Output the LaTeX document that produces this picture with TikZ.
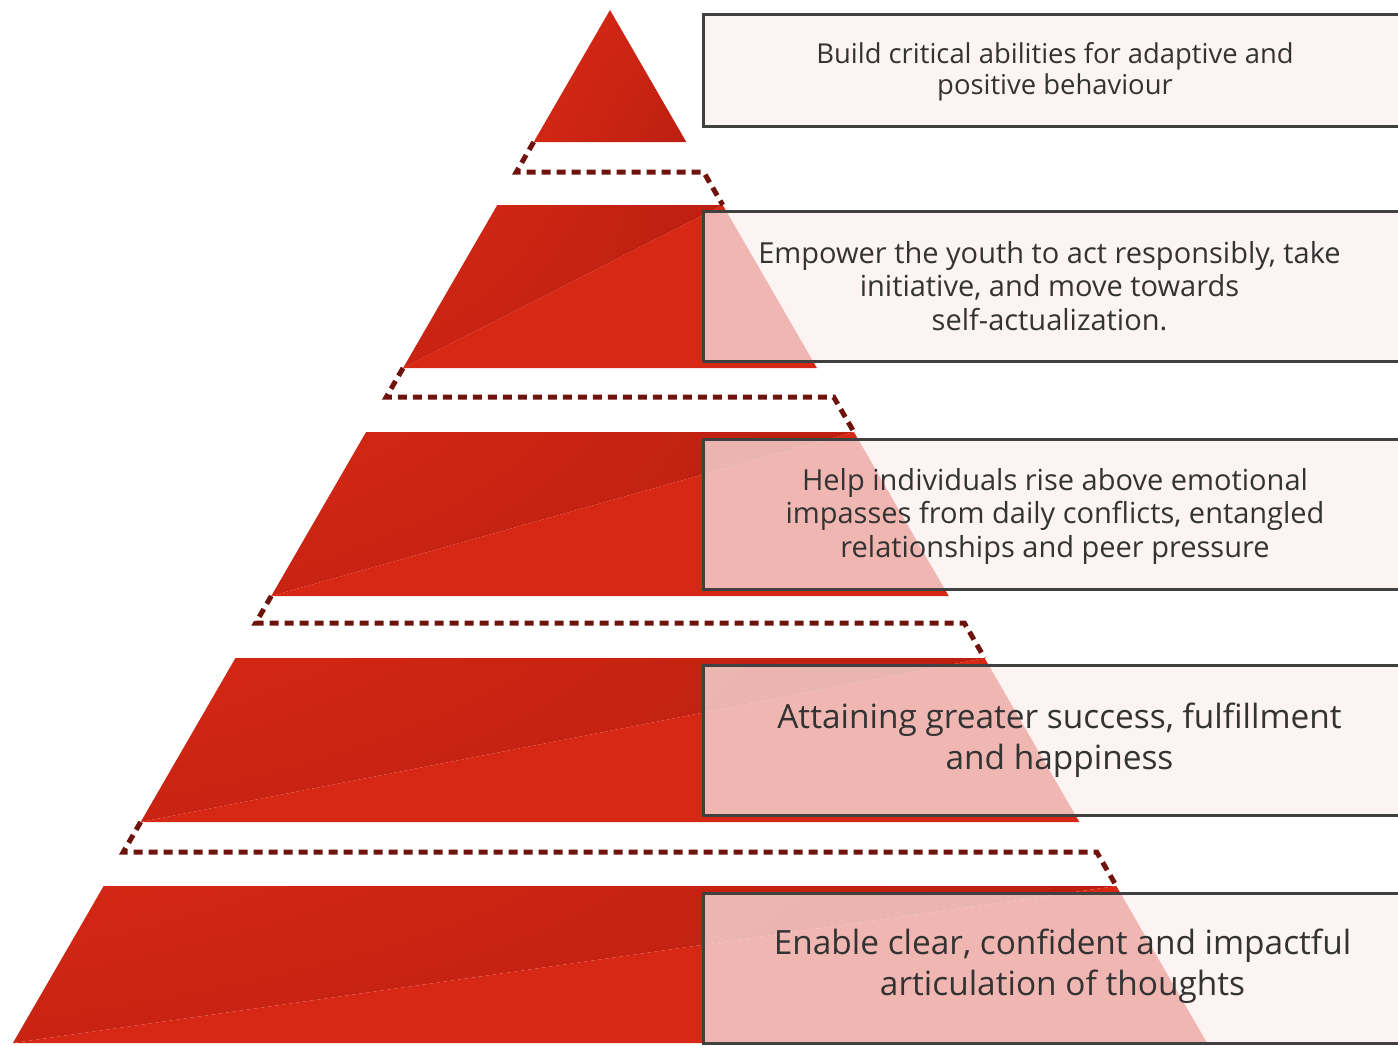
\documentclass[tikz,border=0pt]{standalone}
\usepackage{fontspec}
\setmainfont{Open Sans}
\usetikzlibrary{shadings}
\definecolor{pyrbright}{RGB}{214,40,21}
\definecolor{pyrdark}{RGB}{188,31,17}
\definecolor{dotred}{RGB}{110,20,12}
\definecolor{boxfill}{RGB}{251,238,238}
\definecolor{boxline}{RGB}{64,64,64}
\definecolor{txt}{RGB}{51,51,51}
\tikzset{
  infobox/.style={draw=boxline, line width=3pt, fill=boxfill, fill opacity=0.72},
  dotline/.style={draw=dotred, line width=5pt, dash pattern=on 9pt off 6pt},
  boxtext/.style={text=txt, align=center, inner sep=0pt},
  upperpart/.style={upper left=pyrbright, upper right=pyrdark, lower left=pyrdark!55!pyrbright, lower right=pyrdark},
}
% corners of a band: #1 name, #2 top y, #3 bottom y
\newcommand\bandcorners[3]{%
  \coordinate (#1tl) at ({610-0.578*(#2-10)},#2);
  \coordinate (#1tr) at ({610+0.578*(#2-10)},#2);
  \coordinate (#1bl) at ({610-0.578*(#3-10)},#3);
  \coordinate (#1br) at ({610+0.578*(#3-10)},#3);
}
\newcommand\drawband[1]{%
  \shade[upperpart] (#1tl) -- (#1tr) -- (#1bl) -- cycle;
  \fill[pyrbright] (#1bl) -- (#1br) -- (#1tr) -- cycle;
}
% dotted gap: #1 name, #2 bottom of band above, #3 line y, #4 top of band below
\newcommand\gapcorners[4]{%
  \coordinate (#1a) at ({610-0.578*(#2-10)},#2);
  \coordinate (#1b) at ({610-0.578*(#3-10)},#3);
  \coordinate (#1c) at ({610+0.578*(#3-10)},#3);
  \coordinate (#1d) at ({610+0.578*(#4-10)},#4);
}
\begin{document}
\begin{tikzpicture}[x=1pt,y=-1pt]
\useasboundingbox (0,0) rectangle (1398,1045);
\clip (0,0) rectangle (1398,1045);

% pyramid top
\coordinate (apex) at (610,10);
\coordinate (t1l) at ({610-0.578*132},142);
\coordinate (t1r) at ({610+0.578*132},142);
\shade[upper left=pyrbright, upper right=pyrbright!60!pyrdark, lower left=pyrbright!85!pyrdark, lower right=pyrdark]
  (apex) -- (t1r) -- (t1l) -- cycle;

\bandcorners{b2}{205}{368}
\bandcorners{b3}{432}{596}
\bandcorners{b4}{658}{822}
\bandcorners{b5}{886}{1043}
\drawband{b2}
\drawband{b3}
\drawband{b4}
\drawband{b5}

% dotted outlines of the gaps
\gapcorners{g1}{142}{172}{205}
\gapcorners{g2}{368}{397}{432}
\gapcorners{g3}{596}{623}{658}
\gapcorners{g4}{822}{852}{886}
\draw[dotline] (g1a) -- (g1b) -- (g1c) -- (g1d);
\draw[dotline] (g2a) -- (g2b) -- (g2c) -- (g2d);
\draw[dotline] (g3a) -- (g3b) -- (g3c) -- (g3d);
\draw[dotline] (g4a) -- (g4b) -- (g4c) -- (g4d);

% boxes
\path[infobox] (703,14) rectangle (1420,126);
\path[infobox] (703,211) rectangle (1420,361);
\path[infobox] (703,439) rectangle (1420,589);
\path[infobox] (703,665) rectangle (1420,815);
\path[infobox] (703,893) rectangle (1420,1043);

% texts
\node[boxtext, font=\fontsize{27.4}{31.5}\selectfont] (t1) at (1055,72)
  {Build critical abilities for adaptive and\\positive behaviour};
\node[boxtext, font=\fontsize{29}{33.5}\selectfont] (t2) at (1049.5,286)
  {Empower the youth to act responsibly, take\\initiative, and move towards\\self-actualization.};
\node[boxtext, font=\fontsize{29}{33.5}\selectfont] (t3) at (1055,516)
  {Help individuals rise above emotional\\impasses from daily conflicts, entangled\\relationships and peer pressure};
\node[boxtext, font=\fontsize{33.4}{41}\selectfont] (t4) at (1059.5,740)
  {Attaining greater success, fulfillment\\and happiness};
\node[boxtext, font=\fontsize{33.4}{41}\selectfont] (t5) at (1062.5,966)
  {Enable clear, confident and impactful\\articulation of thoughts};
\end{tikzpicture}
\end{document}
